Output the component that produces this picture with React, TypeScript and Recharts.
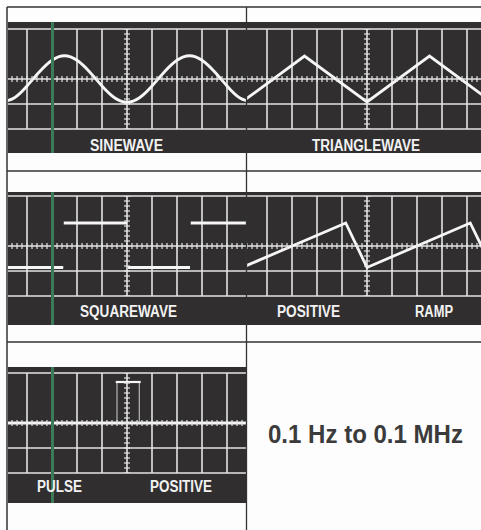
import React from 'react';
import { ComposedChart, Line, XAxis, YAxis, CartesianGrid, Scatter } from 'recharts';

// ---- grid divisions ----
const divTicksX = [0, 1, 2, 3, 4, 5, 6, 7, 8, 9, 10];
const divTicksY = [-2, -1, 0, 1, 2];

// ---- traces (x in divisions, y in divisions) ----
const sineX = [0, 0.5, 1, 1.5, 2, 2.5, 3, 3.5, 4, 4.5, 5, 5.5, 6, 6.5, 7, 7.5, 8, 8.5, 9, 9.5, 10];
const sineY = [-0.92, -0.75, -0.28, 0.29, 0.75, 0.93, 0.75, 0.29, -0.28, -0.75, -0.93, -0.75, -0.28, 0.29, 0.75, 0.93, 0.75, 0.29, -0.28, -0.75, -0.92];

const triX = [0, 2.5, 5, 7.5, 10];
const triY = [-0.92, 0.92, -0.92, 0.92, -0.92];

const sqX = [0, 2.45, 2.47, 2.47, 5.0, 5.02, 5.04, 7.52, 7.53, 7.55, 10];
const sqY: (number | null)[] = [-0.86, -0.86, null, 0.92, 0.92, null, -0.86, -0.86, null, 0.92, 0.92];

const rampX = [0, 4.15, 5, 9.13, 10];
const rampY = [-0.86, 0.92, -0.86, 0.92, -0.86];

const pulseBaseX = [0, 10];
const pulseBaseY = [0, 0];
const pulseTopX = [4.55, 5.55];
const pulseTopY = [1.64, 1.64];
const pulseEdgeX = [4.6, 4.6, 4.6, 5.49, 5.49];
const pulseEdgeY: (number | null)[] = [0, 1.64, null, 1.64, 0];

const labels = ['SINEWAVE', 'TRIANGLEWAVE', 'SQUAREWAVE', 'POSITIVE', 'RAMP', 'PULSE', 'POSITIVE'];
const rangeText = '0.1 Hz to 0.1 MHz';

const zip = (xs: number[], ys: (number | null)[]) => xs.map((x, i) => ({ x, y: ys[i] }));

const hTickPts = Array.from({ length: 51 }, (_, i) => ({ x: i * 0.2, y: 0 }));
const vTickPts = Array.from({ length: 21 }, (_, i) => ({ x: 5, y: -2 + i * 0.2 }));

const DARK = '#302e2e';
const GRID = '#e4e4e4';
const TRACE = '#f6f6f6';
const PAD = 6;
const GW = 250;
const GH = 100;
const LABEL_FONT = "'Liberation Sans', Arial, sans-serif";

const VTick = (p: any) => (
  <line x1={p.cx} x2={p.cx} y1={p.cy - 3} y2={p.cy + 3} stroke={GRID} strokeWidth={1.2} />
);
const HTick = (p: any) => (
  <line x1={p.cx - 3} x2={p.cx + 3} y1={p.cy} y2={p.cy} stroke={GRID} strokeWidth={1.2} />
);

type ScopeProps = { px: number; py: number; pw: number; ph: number; gx: number; gy: number; children?: React.ReactNode };

function Scope({ px, py, pw, ph, gx, gy, children }: ScopeProps) {
  return (
    <div style={{ position: 'absolute', left: px, top: py, width: pw, height: ph, background: DARK, overflow: 'hidden' }}>
      <div style={{ position: 'absolute', left: gx - px - PAD, top: gy - py - PAD }}>
        <ComposedChart width={GW + 2 * PAD} height={GH + 2 * PAD} margin={{ top: PAD, right: PAD, bottom: PAD, left: PAD }}>
          <XAxis type="number" dataKey="x" domain={[0, 10]} ticks={divTicksX} hide allowDataOverflow />
          <YAxis type="number" dataKey="y" domain={[-2, 2]} ticks={divTicksY} hide allowDataOverflow />
          <CartesianGrid stroke={GRID} strokeWidth={1.6} />
          <Scatter data={hTickPts} dataKey="y" shape={VTick} isAnimationActive={false} />
          <Scatter data={vTickPts} dataKey="y" shape={HTick} isAnimationActive={false} />
          {children}
        </ComposedChart>
      </div>
    </div>
  );
}

const traceProps = { dataKey: 'y', stroke: TRACE, dot: false, isAnimationActive: false, connectNulls: false } as const;

type LabelProps = { x: number; y: number; w: number; text: string };
const Lbl = ({ x, y, w, text }: LabelProps) => (
  <text x={x} y={y} textLength={w} lengthAdjust="spacingAndGlyphs">{text}</text>
);

export default function App() {
  return (
    <div style={{ position: 'absolute', left: 0, top: 0, width: 481, height: 530, background: '#fdfdfd', overflow: 'hidden' }}>
      {/* Row 1 */}
      <Scope px={8} py={22} pw={238} ph={131} gx={2} gy={29}>
        <Line {...traceProps} data={zip(sineX, sineY)} type="natural" strokeWidth={2.8} />
      </Scope>
      <Scope px={247} py={22} pw={234} ph={131} gx={242} gy={29}>
        <Line {...traceProps} data={zip(triX, triY)} type="linear" strokeWidth={2.8} />
      </Scope>
      {/* Row 2 */}
      <Scope px={8} py={192} pw={238} ph={133} gx={2} gy={196}>
        <Line {...traceProps} data={zip(sqX, sqY)} type="linear" strokeWidth={2.8} />
      </Scope>
      <Scope px={247} py={192} pw={234} ph={133} gx={242} gy={196}>
        <Line {...traceProps} data={zip(rampX, rampY)} type="linear" strokeWidth={2.8} />
      </Scope>
      {/* Row 3 */}
      <Scope px={8} py={367} pw={238} ph={136} gx={2} gy={373}>
        <Line {...traceProps} data={zip(pulseBaseX, pulseBaseY)} type="linear" strokeWidth={3} />
        <Line {...traceProps} data={zip(pulseEdgeX, pulseEdgeY)} type="linear" strokeWidth={1} stroke="#cfcfcf" />
        <Line {...traceProps} data={zip(pulseTopX, pulseTopY)} type="linear" strokeWidth={2.2} />
      </Scope>

      <svg width={481} height={530} style={{ position: 'absolute', left: 0, top: 0, pointerEvents: 'none' }}>
        {/* frame lines */}
        <line x1={7} x2={481} y1={7} y2={7} stroke="#333" strokeWidth={1.5} />
        <line x1={7} x2={481} y1={171} y2={171} stroke="#333" strokeWidth={1.5} />
        <line x1={7} x2={481} y1={342} y2={342} stroke="#333" strokeWidth={1.5} />
        <line x1={7} x2={7} y1={7} y2={530} stroke="#333" strokeWidth={1.5} />
        <line x1={246.5} x2={246.5} y1={7} y2={530} stroke="#333" strokeWidth={1.3} />
        {/* scan artifact stripe */}
        <rect x={51} y={22} width={3} height={131} fill="#3d7a57" />
        <rect x={51} y={192} width={3} height={133} fill="#3d7a57" />
        <rect x={51} y={367} width={3} height={136} fill="#3d7a57" />
        {/* labels */}
        <g fill="#f2f2f2" fontFamily={LABEL_FONT} fontWeight="bold" fontSize={16} textAnchor="start">
          <Lbl x={90} y={151} w={73} text={labels[0]} />
          <Lbl x={312} y={151} w={108} text={labels[1]} />
          <Lbl x={80} y={317} w={97} text={labels[2]} />
          <Lbl x={277} y={317} w={63} text={labels[3]} />
          <Lbl x={415} y={317} w={38} text={labels[4]} />
          <Lbl x={37} y={492} w={45} text={labels[5]} />
          <Lbl x={150} y={492} w={62} text={labels[6]} />
        </g>
        <g transform="translate(268,443) scale(1,1.1)">
          <text x={0} y={0} fill="#3b3b3b" fontFamily={LABEL_FONT} fontWeight="bold" fontSize={23.5} textLength={195} lengthAdjust="spacingAndGlyphs">
            {rangeText}
          </text>
        </g>
      </svg>
    </div>
  );
}
